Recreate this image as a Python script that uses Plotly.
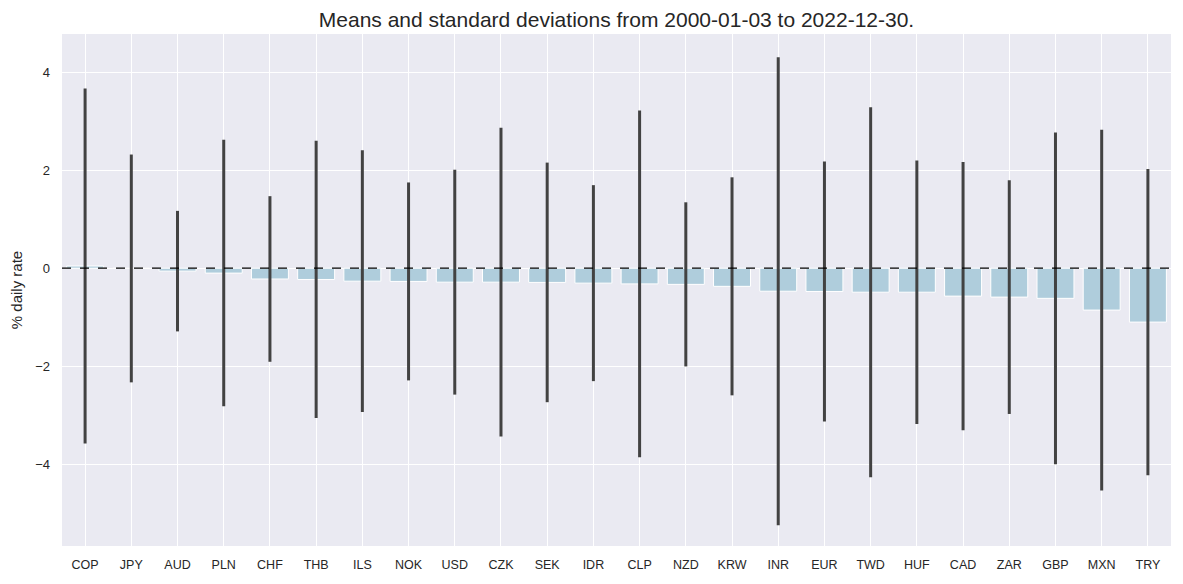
import plotly.graph_objects as go

currencies = ["COP", "JPY", "AUD", "PLN", "CHF", "THB", "ILS", "NOK", "USD", "CZK",
              "SEK", "IDR", "CLP", "NZD", "KRW", "INR", "EUR", "TWD", "HUF", "CAD",
              "ZAR", "GBP", "MXN", "TRY"]
means = [0.045, -0.005, -0.06, -0.10, -0.22, -0.23, -0.265, -0.27, -0.285, -0.285,
         -0.29, -0.305, -0.32, -0.33, -0.37, -0.47, -0.475, -0.49, -0.49, -0.57,
         -0.59, -0.615, -0.855, -1.10]
stds = [3.625, 2.325, 1.23, 2.72, 1.69, 2.83, 2.67, 2.02, 2.295, 3.15,
        2.445, 2.0, 3.54, 1.675, 2.225, 4.775, 2.655, 3.775, 2.69, 2.735,
        2.385, 3.385, 3.68, 3.125]

fig = go.Figure()
fig.add_trace(go.Bar(
    x=currencies, y=means, width=0.8,
    marker=dict(color="#afcddc", line=dict(color="white", width=1)),
    error_y=dict(type="data", array=stds, symmetric=True, color="#424242",
                 thickness=3, width=0),
    showlegend=False,
))
fig.add_shape(type="line", xref="paper", x0=0, x1=1, yref="y", y0=0, y1=0,
              line=dict(color="black", width=1.2, dash="dash"), layer="above")

# page body has an 8px margin, so the figure is sized to fill the rest
W, H = 1175, 576
fig.update_layout(
    width=W, height=H,
    margin=dict(l=54, r=12, t=26, b=38, autoexpand=False),
    paper_bgcolor="white", plot_bgcolor="#eaeaf2",
    font=dict(family="Liberation Sans, Arial, sans-serif", size=13, color="#262626"),
    title=dict(text="Means and standard deviations from 2000-01-03 to 2022-12-30.",
               x=0.5, xref="paper", xanchor="center", y=1 - 12 / H, yref="container",
               yanchor="middle", font=dict(size=21, color="#262626")),
    xaxis=dict(showgrid=True, gridcolor="white", gridwidth=1, range=[-0.5, 23.5],
               zeroline=False, showline=False, ticks="", tickfont=dict(size=12.5),
               ticklabelstandoff=9, automargin=False),
    yaxis=dict(title=dict(text="% daily rate", font=dict(size=15), standoff=10),
               range=[-5.67, 4.78], tickvals=[-4, -2, 0, 2, 4],
               showgrid=True, gridcolor="white", gridwidth=1.2,
               zeroline=False, showline=False, ticks="", tickfont=dict(size=13),
               ticklabelstandoff=11, automargin=False),
    bargap=0.2,
)
fig.write_html("out.html")
